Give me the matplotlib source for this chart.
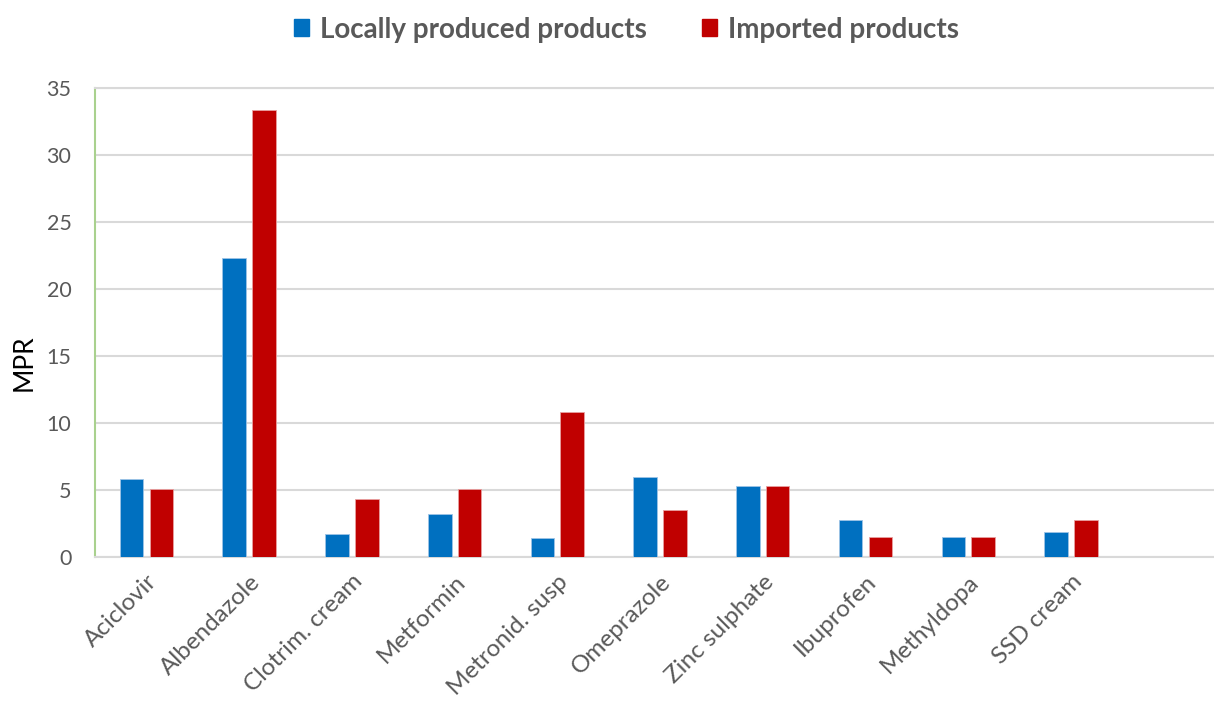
import matplotlib
matplotlib.use("Agg")
import matplotlib.pyplot as plt
from matplotlib.patches import Patch
import numpy as np

# ===== DATA =====
drugs = ["Aciclovir", "Albendazole", "Clotrim. cream", "Metformin", "Metronid. susp",
         "Omeprazole", "Zinc sulphate", "Ibuprofen", "Methyldopa", "SSD cream"]
local_mpr = [5.8, 22.3, 1.7, 3.2, 1.4, 6.0, 5.3, 2.8, 1.5, 1.9]
imported_mpr = [5.1, 33.4, 4.3, 5.1, 10.8, 3.5, 5.3, 1.5, 1.5, 2.8]

BLUE = "#0070c0"
RED = "#c00000"
GRID = "#d9d9d9"
TXT = "#595959"

plt.rcParams["font.family"] = ["Lato", "DejaVu Sans"]

fig = plt.figure(figsize=(12.14, 7.04), dpi=100)
ax = fig.add_axes([0.0783, 0.2088, 0.9308, 0.6655])

x = np.arange(len(drugs))
w = 0.23
ax.bar(x - 0.145, local_mpr, w, color=BLUE, edgecolor="#9dc3e6", linewidth=0.6, zorder=3)
ax.bar(x + 0.145, imported_mpr, w, color=RED, edgecolor="#e8a0a0", linewidth=0.6, zorder=3)

ax.set_xlim(-0.5, 10.5)
ax.set_ylim(0, 35)
ax.set_yticks(range(0, 36, 5))
ax.yaxis.grid(True, color=GRID, linewidth=1.5, zorder=0)
ax.set_axisbelow(True)

for s in ["top", "bottom"]:
    ax.spines[s].set_color(GRID)
    ax.spines[s].set_linewidth(1.5)
ax.spines["right"].set_visible(False)
ax.spines["left"].set_color("#a9d18e")
ax.spines["left"].set_linewidth(1.5)

ax.tick_params(axis="both", length=0, colors=TXT)
ax.tick_params(axis="y", pad=17, labelsize=15.5)
ax.set_xticks(x)
ax.set_xticklabels(drugs, rotation=45, ha="right", va="top", rotation_mode="anchor")
ax.tick_params(axis="x", pad=10, labelsize=17.5)

ax.set_ylabel("MPR", fontsize=19, color="black")
ax.yaxis.set_label_coords(-0.052, 0.414)

handles = [Patch(color=BLUE, label="Locally produced products"),
           Patch(color=RED, label="Imported products")]
fig.legend(handles=handles, loc="center", bbox_to_anchor=(0.516, 0.958), ncol=2,
           frameon=False, prop={"size": 20, "weight": "bold"}, labelcolor=TXT,
           handlelength=0.54, handleheight=0.54, handletextpad=0.4, columnspacing=2.0)

fig.savefig("out.png", dpi=100)
